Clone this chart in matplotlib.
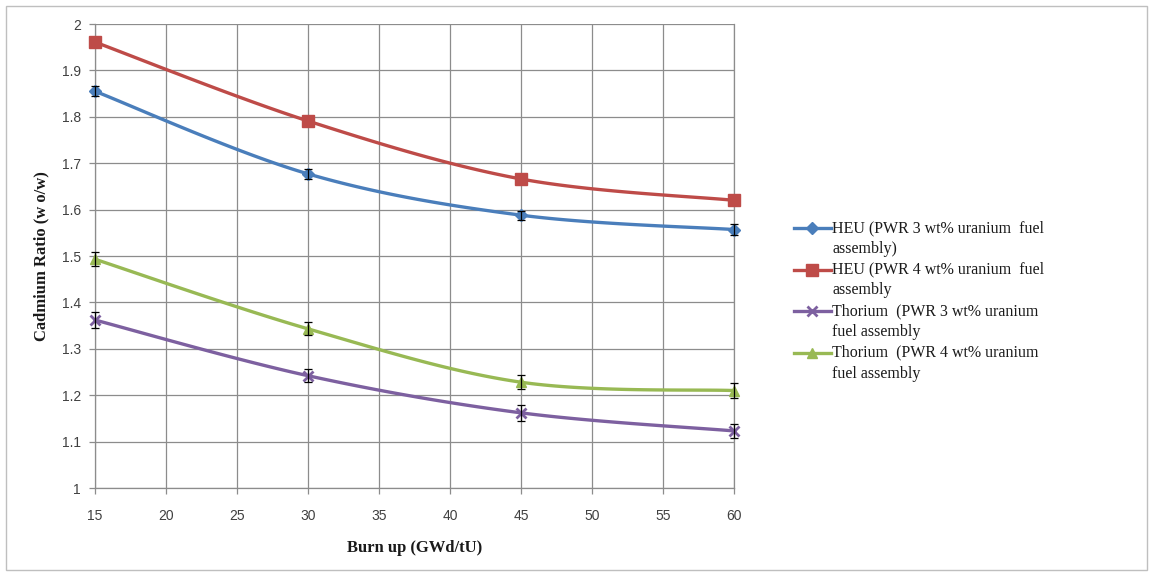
import numpy as np
import matplotlib
matplotlib.use("Agg")
import matplotlib.pyplot as plt
from matplotlib.patches import Rectangle
from matplotlib.legend_handler import HandlerLine2D

# ── data ──────────────────────────────────────────────────────────────────────
burnup = [15, 30, 45, 60]

heu3 = [1.855, 1.677, 1.588, 1.557]
heu4 = [1.961, 1.791, 1.666, 1.620]
th3 = [1.362, 1.242, 1.162, 1.123]
th4 = [1.493, 1.343, 1.228, 1.210]

heu3_err = [0.011, 0.011, 0.010, 0.012]
th3_err = [0.017, 0.014, 0.017, 0.016]
th4_err = [0.015, 0.014, 0.015, 0.016]

labels = [
    "HEU (PWR 3 wt% uranium  fuel\nassembly)",
    "HEU (PWR 4 wt% uranium  fuel\nassembly",
    "Thorium  (PWR 3 wt% uranium\nfuel assembly",
    "Thorium  (PWR 4 wt% uranium\nfuel assembly",
]

xticks = [15, 20, 25, 30, 35, 40, 45, 50, 55, 60]
yticks = [1, 1.1, 1.2, 1.3, 1.4, 1.5, 1.6, 1.7, 1.8, 1.9, 2]
ytick_labels = ["1", "1.1", "1.2", "1.3", "1.4", "1.5", "1.6", "1.7", "1.8", "1.9", "2"]

# ── colours ───────────────────────────────────────────────────────────────────
C = {
    "heu3": "#4A7EBB",
    "heu4": "#BE4B48",
    "th3":  "#7D60A0",
    "th4":  "#98B954",
    "grid": "#8C8C8C",
    "tick": "#404040",
    "frame": "#BFBFBF",
}


def smooth(xs, ys, n=40):
    """Excel-style smoothed line: cubic Bezier segments with Catmull-Rom tangents."""
    p = np.column_stack([xs, ys]).astype(float)
    ext = np.vstack([p[0], p, p[-1]])
    out = []
    for i in range(len(p) - 1):
        p0, p1, p2, p3 = ext[i], ext[i + 1], ext[i + 2], ext[i + 3]
        c1 = p1 + (p2 - p0) / 6.0
        c2 = p2 - (p3 - p1) / 6.0
        t = np.linspace(0, 1, n)[:, None]
        seg = ((1 - t) ** 3) * p1 + 3 * ((1 - t) ** 2) * t * c1 \
            + 3 * (1 - t) * t ** 2 * c2 + t ** 3 * p2
        out.append(seg if i == 0 else seg[1:])
    out = np.vstack(out)
    return out[:, 0], out[:, 1]


class FirstLineHandler(HandlerLine2D):
    """Legend handle lined up with the first line of a two-line label."""
    def create_artists(self, legend, orig_handle, xdescent, ydescent, width, height,
                       fontsize, trans):
        return super().create_artists(legend, orig_handle, xdescent,
                                      ydescent - 1.35 * fontsize, width, height,
                                      fontsize, trans)


W, H, DPI = 1150, 573, 100
fig = plt.figure(figsize=(W / DPI, H / DPI), dpi=DPI, facecolor="white")

# outer chart frame
fig.patches.append(Rectangle((6 / W, 3 / H), 1141 / W, 564 / H, transform=fig.transFigure,
                             fill=False, edgecolor=C["frame"], lw=1.0))

ax = fig.add_axes([95 / W, 1 - 488 / H, 639 / W, 464 / H])
ax.set_xlim(15, 60)
ax.set_ylim(1, 2)

series = [
    (heu3, heu3_err, C["heu3"], "D", 6),
    (heu4, None, C["heu4"], "s", 8),
    (th3, th3_err, C["th3"], "x", 7),
    (th4, th4_err, C["th4"], "^", 7),
]

handles = []
for vals, err, col, mk, ms in series:
    sx, sy = smooth(burnup, vals)
    ax.plot(sx, sy, color=col, lw=2.4, zorder=3, solid_capstyle="round")
    ax.plot(burnup, vals, marker=mk, ms=ms, mew=2 if mk == "x" else 1,
            mec=col, mfc=col, linestyle="none", zorder=4, clip_on=False)
    if err is not None:
        ax.errorbar(burnup, vals, yerr=err, fmt="none", ecolor="black",
                    elinewidth=0.9, capsize=3, capthick=0.9, zorder=5, clip_on=False)
    # legend handle: line with marker
    lh, = ax.plot([], [], color=col, lw=2.4, marker=mk, ms=ms,
                  mew=2 if mk == "x" else 1, mec=col, mfc=col)
    handles.append(lh)

# grid and axes
ax.set_xticks(xticks)
ax.set_yticks(yticks)
ax.set_yticklabels(ytick_labels)
ax.grid(True, color=C["grid"], lw=0.9)
ax.set_axisbelow(True)
ax.spines["top"].set_visible(False)
for s in ["left", "bottom", "right"]:
    ax.spines[s].set_color(C["grid"])
    ax.spines[s].set_linewidth(0.9)
ax.tick_params(axis="both", colors=C["grid"], labelcolor=C["tick"], labelsize=10,
               length=4, width=0.9)
ax.tick_params(axis="x", pad=11)
ax.tick_params(axis="y", pad=6)
for lbl in ax.get_xticklabels() + ax.get_yticklabels():
    lbl.set_family("Liberation Sans")

ax.set_xlabel("Burn up (GWd/tU)", family="Liberation Serif", fontweight="bold",
              fontsize=12, color="#1A1A1A", labelpad=12)
ax.set_ylabel("Cadmium Ratio (w o/w)", family="Liberation Serif", fontweight="bold",
              fontsize=12, color="#1A1A1A", labelpad=9)

leg = fig.legend(handles, labels, loc="upper left", bbox_to_anchor=(794 / W, 1 - 220 / H),
                 frameon=False, prop={"family": "Liberation Serif", "size": 11.5},
                 handlelength=2.3, handletextpad=0.1, labelspacing=0.3,
                 borderaxespad=0, borderpad=0,
                 handler_map={h: FirstLineHandler() for h in handles})
for txt in leg.get_texts():
    txt.set_linespacing(1.4)
    txt.set_color("#1A1A1A")

fig.savefig("out.png", dpi=DPI, facecolor="white")
